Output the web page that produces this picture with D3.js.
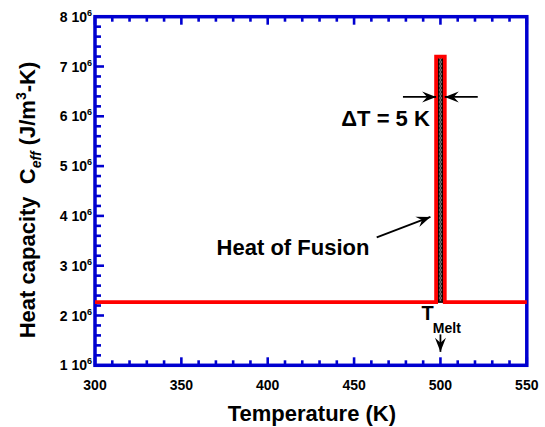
<!DOCTYPE html>
<html>
<head>
<meta charset="utf-8">
<script src="https://cdn.jsdelivr.net/npm/d3@7"></script>
<style>
  body { margin: 0; background: #fff; }
  text { font-family: "Liberation Sans", Arial, sans-serif; font-weight: bold; fill: #000; }
</style>
</head>
<body>
<div class="container"></div>
<script>
var w = 545;
var h = 427;

// step profile of effective heat capacity
var temps = [300, 497.5, 497.5, 502.5, 502.5, 550];
var ceff  = [2.27e6, 2.27e6, 7.2e6, 7.2e6, 2.27e6, 2.27e6];
// hatched latent-heat band
var band = [498.5, 501.5];

var xTicks = [300, 350, 400, 450, 500, 550];
var yTicks = [1, 2, 3, 4, 5, 6, 7, 8];

var x = d3.scaleLinear().domain([300, 550]).range([95, 526.8]);
var y = d3.scaleLinear().domain([1e6, 8e6]).range([365.3, 16.7]);

var blue = "#0000d0";

var svg = d3.select(".container").append("svg").attr("width", w).attr("height", h);

var bw = x(band[1]) - x(band[0]);
var defs = svg.append("defs");
var pat = defs.append("pattern").attr("id", "hatch")
  .attr("patternUnits", "userSpaceOnUse")
  .attr("x", x(band[0])).attr("y", 0)
  .attr("width", bw).attr("height", 4);
pat.append("rect").attr("width", 10).attr("height", 4).attr("fill", "#000");
pat.append("path")
  .attr("d", "M" + bw / 2 + ",0.3 L" + (bw - 1.2) + ",2 L" + bw / 2 + ",3.7 L1.2,2 Z")
  .attr("fill", "none").attr("stroke", "#fff").attr("stroke-width", 0.7);

defs.append("marker").attr("id", "arr")
  .attr("markerUnits", "userSpaceOnUse")
  .attr("viewBox", "-15 -7 17 14")
  .attr("markerWidth", 17).attr("markerHeight", 14)
  .attr("refX", 0).attr("refY", 0)
  .attr("orient", "auto")
  .append("path").attr("d", "M0,0 L-14,-5.5 L-9,0 L-14,5.5 Z").attr("fill", "#000");

// ticks (drawn inside the frame)
var g = svg.append("g");
d3.range(300, 551, 10).forEach(function(t) {
  var major = t % 50 === 0;
  var len = major ? 8 : 5;
  g.append("line").attr("x1", x(t)).attr("x2", x(t))
    .attr("y1", y(1e6)).attr("y2", y(1e6) - len)
    .attr("stroke", blue).attr("stroke-width", 2.6);
  g.append("line").attr("x1", x(t)).attr("x2", x(t))
    .attr("y1", y(8e6)).attr("y2", y(8e6) + len)
    .attr("stroke", blue).attr("stroke-width", 2.6);
});
d3.range(10, 81, 2).forEach(function(v) {
  var val = v * 1e5;
  var major = v % 10 === 0;
  g.append("line").attr("x1", x(300)).attr("x2", x(300) + (major ? 9 : 6))
    .attr("y1", y(val)).attr("y2", y(val))
    .attr("stroke", blue).attr("stroke-width", 2.6);
});

// frame
svg.append("rect")
  .attr("x", x(300)).attr("y", y(8e6))
  .attr("width", x(550) - x(300)).attr("height", y(1e6) - y(8e6))
  .attr("fill", "none").attr("stroke", blue).attr("stroke-width", 3.5);

// hatched band
svg.append("rect")
  .attr("x", x(band[0])).attr("y", y(7.2e6))
  .attr("width", bw).attr("height", y(2.27e6) - y(7.2e6))
  .attr("fill", "url(#hatch)").attr("stroke", "#000").attr("stroke-width", 1.6);

// red step line
var line = d3.line().x(function(d) { return x(d[0]); }).y(function(d) { return y(d[1]); });
svg.append("path")
  .datum(d3.zip(temps, ceff))
  .attr("d", line)
  .attr("fill", "none").attr("stroke", "#ff0000").attr("stroke-width", 3.8);

// tick labels
svg.selectAll(".xl").data(xTicks).enter().append("text")
  .attr("x", function(d) { return x(d); }).attr("y", 390)
  .attr("text-anchor", "middle").attr("font-size", 14)
  .text(function(d) { return d; });

var yl = svg.selectAll(".yl").data(yTicks).enter().append("text")
  .attr("x", 92).attr("y", function(d) { return y(d * 1e6) + 5; })
  .attr("text-anchor", "end").attr("font-size", 14);
yl.append("tspan").text(function(d) { return d + " 10"; });
yl.append("tspan").attr("font-size", 9).attr("dy", -6).text("6");

// axis titles
svg.append("text").attr("x", (x(300) + x(550)) / 2 + 1).attr("y", 421)
  .attr("text-anchor", "middle").attr("font-size", 22).text("Temperature (K)");

var yt = svg.append("text")
  .attr("transform", "translate(35,200) rotate(-90)")
  .attr("text-anchor", "middle").attr("font-size", 22)
  .style("white-space", "pre");
yt.append("tspan").text("Heat capacity  C");
yt.append("tspan").attr("font-size", 14).attr("font-style", "italic").attr("dy", 6).text("eff");
yt.append("tspan").attr("dy", -6).text(" (J/m");
yt.append("tspan").attr("font-size", 14).attr("dy", -9).text("3");
yt.append("tspan").attr("dy", 9).text("-K)");

// annotations
function arrow(t0, c0, t1, c1) {
  svg.append("line")
    .attr("x1", x(t0)).attr("y1", y(c0)).attr("x2", x(t1)).attr("y2", y(c1))
    .attr("stroke", "#000").attr("stroke-width", 1.8).attr("marker-end", "url(#arr)");
}
arrow(478.3, 6.39e6, 497.5, 6.39e6);
arrow(521.6, 6.39e6, 502.5, 6.39e6);
arrow(463.1, 3.57e6, 494.2, 3.98e6);
arrow(500, 1.62e6, 500, 1.27e6);

svg.append("text").attr("x", x(442.6)).attr("y", y(5.81e6))
  .attr("font-size", 22).text("\u0394T = 5 K");
svg.append("text").attr("x", x(370.4)).attr("y", y(3.22e6))
  .attr("font-size", 22).text("Heat of Fusion");
svg.append("text").attr("x", x(489.0)).attr("y", y(1.9e6))
  .attr("font-size", 20).text("T");
svg.append("text").attr("x", x(495.6)).attr("y", y(1.65e6))
  .attr("font-size", 14).text("Melt");
</script>
</body>
</html>
